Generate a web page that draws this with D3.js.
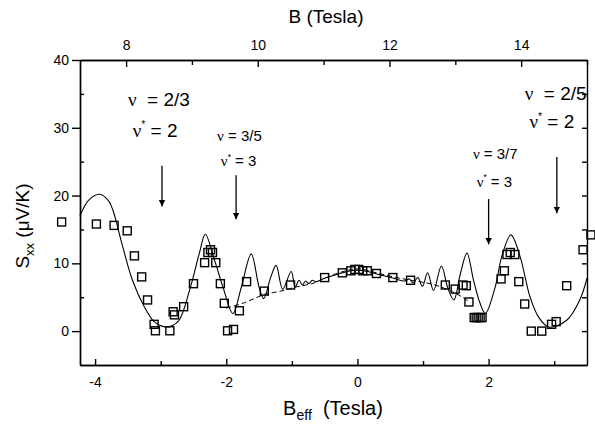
<!DOCTYPE html>
<html>
<head>
<meta charset="utf-8">
<script src="https://cdn.jsdelivr.net/npm/d3@7"></script>
<style>
  body { margin: 0; background: #fff; }
  svg { display: block; font-family: "Liberation Sans", Arial, sans-serif; }
</style>
</head>
<body>
<svg id="chart" width="595" height="426"></svg>
<script>
// solid theory curve, [Beff, Sxx]
const fitCurve = [
  [-4.23, 17.0], [-4.1, 19.3], [-3.93, 20.2], [-3.8, 19.3], [-3.73, 17.9], [-3.58, 12.5],
  [-3.43, 7.5], [-3.25, 3.6], [-3.10, 1.4], [-2.97, 0.7], [-2.85, 0.7], [-2.72, 1.6],
  [-2.56, 6.0], [-2.41, 11.5], [-2.32, 14.3], [-2.18, 10.5], [-2.05, 6.5], [-1.90, 2.6],
  [-1.77, 6.5], [-1.62, 11.4], [-1.50, 6.5], [-1.43, 4.8], [-1.32, 8.0], [-1.24, 9.7],
  [-1.14, 6.2], [-1.01, 8.8], [-0.95, 6.5], [-0.89, 7.5], [-0.84, 6.8], [-0.79, 7.4],
  [-0.74, 7.0], [-0.69, 7.5], [-0.63, 7.3], [-0.5, 7.8], [-0.3, 8.4], [-0.1, 8.9],
  [0, 9.0], [0.15, 8.8], [0.35, 8.3], [0.55, 7.8], [0.72, 7.4], [0.79, 7.7], [0.85, 7.1],
  [0.92, 7.9], [0.99, 6.6], [1.07, 8.6], [1.16, 6.0], [1.28, 9.6], [1.38, 6.3],
  [1.47, 4.6], [1.57, 8.5], [1.67, 11.5], [1.77, 7.5], [1.87, 4.1], [1.95, 2.6],
  [2.10, 6.5], [2.20, 11.0], [2.34, 14.2], [2.48, 11.0], [2.63, 5.1], [2.76, 2.1],
  [2.92, 0.6], [3.19, 1.6], [3.39, 4.6], [3.5, 7.8]
];

// dashed background curve
const backgroundCurve = [
  [-2.0, 3.4], [-1.72, 4.2], [-1.42, 5.4], [-1.17, 5.9], [-0.94, 6.5], [-0.66, 7.1],
  [-0.5, 7.8], [-0.25, 8.7], [0, 9.2], [0.25, 8.7], [0.5, 8.1], [0.81, 7.5],
  [1.15, 6.9], [1.45, 5.8], [1.6, 5.0], [1.72, 4.2]
];

// measured points
const measured = [
  [-4.51, 16.1], [-3.98, 15.8], [-3.71, 15.6], [-3.51, 14.8], [-3.40, 11.1], [-3.29, 8.0],
  [-3.20, 4.6], [-3.10, 1.0], [-3.08, 0.05], [-2.86, 0.05], [-2.81, 2.85], [-2.79, 2.4],
  [-2.65, 3.6], [-2.50, 7.0], [-2.33, 10.1], [-2.28, 11.6], [-2.24, 12.0], [-2.21, 11.6],
  [-2.16, 10.1], [-2.09, 7.0], [-2.03, 4.1], [-1.98, 0.05], [-1.89, 0.25], [-1.80, 3.0],
  [-1.69, 7.3], [-1.42, 5.9], [-1.02, 6.8], [-0.50, 7.9], [-0.23, 8.6], [-0.10, 8.9],
  [-0.04, 9.1], [0.02, 9.1], [0.08, 8.9], [0.15, 8.9], [0.29, 8.5], [0.54, 7.9],
  [0.81, 7.5], [1.34, 6.8], [1.49, 6.2], [1.61, 6.8], [1.66, 6.7], [1.70, 4.3],
  [1.78, 2.0], [1.81, 2.0], [1.84, 2.0], [1.87, 2.0], [1.90, 2.0],
  [2.19, 7.7], [2.24, 8.9], [2.28, 11.3], [2.33, 11.6], [2.40, 11.3], [2.46, 7.3],
  [2.55, 4.0], [2.65, 0], [2.81, 0], [2.96, 1.0], [3.03, 1.4], [3.19, 6.7],
  [3.44, 12.0], [3.56, 14.2]
];

// tick values
const beffMajor = [-4, -2, 0, 2];
const beffMinor = [-3, -1, 1, 3];
const bMajor = [8, 10, 12, 14];
const bMinor = [9, 11, 13, 15];
const sMajor = [0, 10, 20, 30, 40];
const sMinor = [5, 15, 25, 35];
const sRight = [0, 5, 10, 15, 20, 25, 30, 35];

// annotations: filling factors with arrow from/to (Beff, S)
const labels = [
  { nu: "2/3", star: "2", tx: -3.50, ty1: 33.2, ty2: 28.7, size: 19, ax: -2.98, a0: 24.4, a1: 18.4 },
  { nu: "3/5", star: "3", tx: -2.14, ty1: 28.0, ty2: 24.3, size: 15, ax: -1.85, a0: 23.0, a1: 16.5 },
  { nu: "3/7", star: "3", tx: 1.76, ty1: 25.4, ty2: 21.3, size: 15, ax: 2.0, a0: 19.5, a1: 12.8 },
  { nu: "2/5", star: "2", tx: 2.55, ty1: 34.1, ty2: 29.9, size: 19, ax: 3.04, a0: 25.7, a1: 17.4 }
];

const svg = d3.select("#chart");
const pLeft = 80, pRight = 587, pTop = 60, pBottom = 365;

const x = d3.scaleLinear().domain([-4.23, 3.5]).range([pLeft, pRight]);
const xTop = d3.scaleLinear().domain([7.3, 15.0]).range([pLeft, pRight]);
const y = d3.scaleLinear().domain([-5, 40]).range([pBottom, pTop]);

svg.append("defs").append("marker")
  .attr("id", "head")
  .attr("viewBox", "0 0 10 10")
  .attr("refX", 10).attr("refY", 5)
  .attr("markerWidth", 5).attr("markerHeight", 6)
  .attr("orient", "auto")
  .append("path").attr("d", "M0,0 L10,5 L0,10 z").attr("fill", "#000");

function styleAxis(g) {
  g.selectAll("path, line").attr("stroke", "#000").attr("stroke-width", 1.4);
  g.selectAll("text").attr("font-family", "Liberation Sans, Arial, sans-serif")
    .attr("font-size", 14).attr("fill", "#000");
}

// bottom
svg.append("g").attr("transform", `translate(0,${pBottom})`)
  .call(d3.axisBottom(x).tickValues(beffMajor).tickSizeInner(-6).tickSizeOuter(0)
    .tickPadding(12).tickFormat(d => String(d)))
  .call(styleAxis);
svg.append("g").attr("transform", `translate(0,${pBottom})`)
  .call(d3.axisBottom(x).tickValues(beffMinor).tickSizeInner(-4).tickSizeOuter(0).tickFormat(""))
  .call(styleAxis);

// top
svg.append("g").attr("transform", `translate(0,${pTop})`)
  .call(d3.axisTop(xTop).tickValues(bMajor).tickSizeInner(-7).tickSizeOuter(0)
    .tickPadding(10).tickFormat(d => String(d)))
  .call(styleAxis);
svg.append("g").attr("transform", `translate(0,${pTop})`)
  .call(d3.axisTop(xTop).tickValues(bMinor).tickSizeInner(-5).tickSizeOuter(0).tickFormat(""))
  .call(styleAxis);

// left
svg.append("g").attr("transform", `translate(${pLeft},0)`)
  .call(d3.axisLeft(y).tickValues(sMajor).tickSizeInner(8).tickSizeOuter(0)
    .tickPadding(3).tickFormat(d => String(d)))
  .call(styleAxis);
svg.append("g").attr("transform", `translate(${pLeft},0)`)
  .call(d3.axisLeft(y).tickValues(sMinor).tickSizeInner(-4).tickSizeOuter(0).tickFormat(""))
  .call(styleAxis);

// right
svg.append("g").attr("transform", `translate(${pRight},0)`)
  .call(d3.axisRight(y).tickValues(sRight).tickSizeInner(-5).tickSizeOuter(0).tickFormat(""))
  .call(styleAxis);

// axis titles
svg.append("text").attr("x", 326).attr("y", 23).attr("text-anchor", "middle")
  .attr("font-size", 19).text("B (Tesla)");

const xt = svg.append("text").attr("x", 333).attr("y", 415).attr("text-anchor", "middle")
  .attr("font-size", 20);
xt.append("tspan").text("B");
xt.append("tspan").attr("font-size", 14).attr("dy", 5).text("eff");
xt.append("tspan").attr("dy", -5).text("\u00a0 (Tesla)");

const yt = svg.append("text").attr("transform", "translate(29,226) rotate(-90)")
  .attr("text-anchor", "middle").attr("font-size", 19);
yt.append("tspan").text("S");
yt.append("tspan").attr("font-size", 13).attr("dy", 5).text("xx");
yt.append("tspan").attr("dy", -5).text(" (\u03bcV/K)");

// curves
const line = d3.line().x(d => x(d[0])).y(d => y(d[1])).curve(d3.curveCatmullRom.alpha(0.5));

svg.append("path").datum(backgroundCurve).attr("d", line)
  .attr("fill", "none").attr("stroke", "#000").attr("stroke-width", 1)
  .attr("stroke-dasharray", "5,3");

svg.append("path").datum(fitCurve).attr("d", line)
  .attr("fill", "none").attr("stroke", "#000").attr("stroke-width", 1.1);

// squares
const sq = 8;
svg.append("g").selectAll("rect").data(measured).join("rect")
  .attr("x", d => x(d[0]) - sq / 2).attr("y", d => y(d[1]) - sq / 2)
  .attr("width", sq).attr("height", sq)
  .attr("fill", "none").attr("stroke", "#000").attr("stroke-width", 1.4);

// annotations
const ann = svg.append("g");
labels.forEach(l => {
  const t1 = ann.append("text").attr("x", x(l.tx)).attr("y", y(l.ty1)).attr("font-size", l.size);
  t1.append("tspan").attr("font-family", "Liberation Serif, serif").text("\u03bd");
  t1.append("tspan").text((l.size > 16 ? "\u00a0\u00a0= " : " = ") + l.nu);

  const t2 = ann.append("text").attr("x", x(l.tx) + l.size * 0.25).attr("y", y(l.ty2)).attr("font-size", l.size);
  t2.append("tspan").attr("font-family", "Liberation Serif, serif").text("\u03bd");
  t2.append("tspan").attr("font-size", l.size * 0.55).attr("dy", -l.size * 0.45).text("*");
  t2.append("tspan").attr("dy", l.size * 0.45).text(" = " + l.star);

  ann.append("line")
    .attr("x1", x(l.ax)).attr("x2", x(l.ax))
    .attr("y1", y(l.a0)).attr("y2", y(l.a1))
    .attr("stroke", "#000").attr("stroke-width", 1.3)
    .attr("marker-end", "url(#head)");
});
</script>
</body>
</html>
